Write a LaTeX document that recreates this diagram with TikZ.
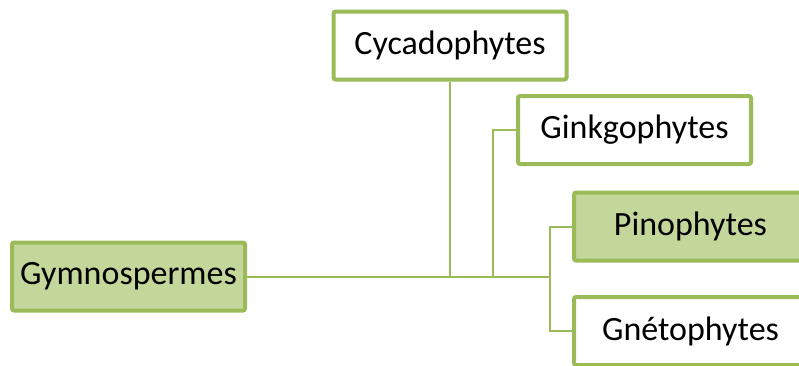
\documentclass[tikz,border=0pt]{standalone}
\usepackage{fontspec}
\setmainfont{Carlito}
\definecolor{gborder}{HTML}{9BBB59}
\definecolor{gfill}{HTML}{C4D79B}
\definecolor{gline}{HTML}{9BBB59}
\tikzset{
  box/.style={draw=gborder, line width=4pt, rounded corners=2pt, minimum width=233pt, minimum height=68pt, inner sep=0pt, font=\fontsize{34}{40}\selectfont, text=black},
  greenbox/.style={box, fill=gfill},
  whitebox/.style={box, fill=white},
  conn/.style={draw=gline, line width=2pt}
}
\begin{document}
\begin{tikzpicture}[x=1pt,y=-1pt]
\useasboundingbox (0,0) rectangle (799,365);
\clip (0,0) rectangle (799,365);
\node[greenbox] (gym) at (128.5,276.5) {Gymnospermes};
\node[whitebox] (cyc) at (450,45.5) {Cycadophytes};
\node[whitebox] (gin) at (634.5,130) {Ginkgophytes};
\node[greenbox] (pin) at (690.5,226.5) {Pinophytes};
\node[whitebox] (gne) at (690.5,331) {Gnétophytes};
\coordinate (j) at (550,276.5);
\coordinate (jg) at (493,276.5);
\draw[conn] (gym.east) -- (j);
\draw[conn] (cyc.south) -- (cyc.south |- j);
\draw[conn] (gin.west) -| (jg);
\draw[conn] (pin.west) -| (j);
\draw[conn] (gne.west) -| (j);
\end{tikzpicture}
\end{document}
